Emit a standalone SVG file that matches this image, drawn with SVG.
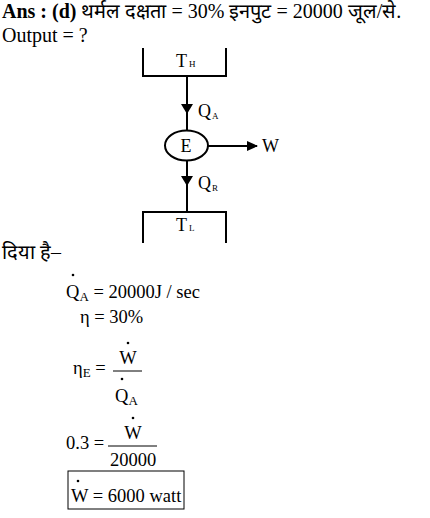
<svg xmlns="http://www.w3.org/2000/svg" width="430" height="518" viewBox="0 0 430 518">
<style>
text{font-family:"Liberation Serif","Times New Roman","DejaVu Serif",serif;fill:#000}
.t{font-size:20px}
.e{font-size:18.5px}
.d{font-size:18px}
.s{font-size:9px}
.sub{font-size:13px}
.ln{stroke:#000;stroke-width:2;fill:none}
.th{stroke:#000;stroke-width:1;fill:none}
</style>
<defs>
<marker id="ah" markerWidth="11" markerHeight="10" refX="10" refY="5" orient="auto" markerUnits="userSpaceOnUse">
<path d="M0,0 L11,5 L0,10 Z" fill="#000"/>
</marker>
</defs>
<text class="t" x="2" y="18"><tspan font-weight="bold">Ans : (d)</tspan> थर्मल दक्षता = 30% इनपुट = 20000  जूल/से.</text>
<text class="t" x="2" y="42">Output = ?</text>
<g id="hot">
<path class="ln" d="M143,48 V76 H226 V48"/>
<text class="d" x="176" y="67">T<tspan class="s" dx="2">H</tspan></text>
</g>
<g id="engine">
<ellipse class="ln" cx="186.5" cy="145.5" rx="21.5" ry="15"/>
<text class="d" x="186" y="152" text-anchor="middle">E</text>
</g>
<g id="cold">
<path class="ln" d="M143,243 V212 H226 V243"/>
<text class="d" x="176" y="231">T<tspan class="s" dx="2">L</tspan></text>
</g>
<g id="connectors">
<line class="ln" x1="187" y1="76" x2="187" y2="130.5"/>
<path d="M181,104 L193,104 L187,114 Z" fill="#000"/>
<line class="ln" x1="187" y1="160.5" x2="187" y2="212"/>
<path d="M181,176 L193,176 L187,186 Z" fill="#000"/>
<line class="ln" x1="208" y1="146" x2="257" y2="146" marker-end="url(#ah)"/>
</g>
<text class="d" x="198" y="117">Q<tspan class="s" dx="1" dy="2">A</tspan></text>
<text class="d" x="198" y="189">Q<tspan class="s" dx="1" dy="2">R</tspan></text>
<text class="d" x="262" y="152">W</text>
<text class="t" x="2" y="259">दिया है–</text>
<circle cx="73" cy="275" r="1.3" fill="#000"/>
<text class="e" x="66" y="298">Q<tspan class="sub" dy="3">A</tspan><tspan dy="-3"> = 20000J / sec</tspan></text>
<text class="e" x="80" y="323">η = 30%</text>
<text class="e" x="73" y="374">η<tspan class="sub" dy="3">E</tspan><tspan dy="-3"> =</tspan></text>
<line class="th" x1="113" y1="371" x2="142" y2="371"/>
<circle cx="128" cy="343" r="1.3" fill="#000"/>
<text class="e" x="128" y="364" text-anchor="middle">W</text>
<circle cx="122" cy="379" r="1.3" fill="#000"/>
<text class="e" x="115" y="402">Q<tspan class="sub" dy="3">A</tspan></text>
<text class="e" x="66" y="449">0.3 =</text>
<line class="th" x1="108" y1="446" x2="157" y2="446"/>
<circle cx="133" cy="418" r="1.3" fill="#000"/>
<text class="e" x="133" y="439" text-anchor="middle">W</text>
<text class="e" x="133" y="466" text-anchor="middle">20000</text>
<rect class="th" x="68" y="471" width="116" height="38"/>
<circle cx="78" cy="481" r="1.3" fill="#000"/>
<text class="e" x="71" y="502">W = 6000 watt</text>
</svg>
